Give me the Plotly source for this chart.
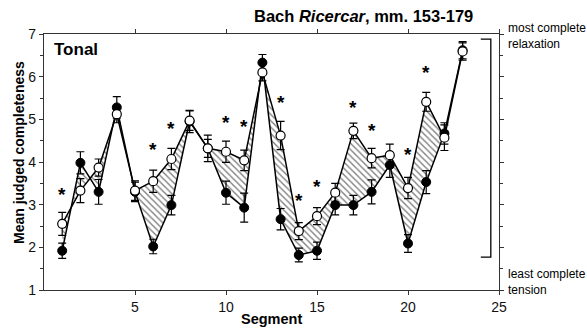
import plotly.graph_objects as go

# ---- data ----
segments = list(range(1, 24))
open_vals = [2.55, 3.33, 3.87, 5.12, 3.33, 3.55, 4.07, 4.97, 4.32, 4.24, 4.04, 6.10,
             4.62, 2.38, 2.73, 3.28, 4.73, 4.09, 4.16, 3.39, 5.41, 4.57, 6.59]
filled_vals = [1.92, 3.98, 3.30, 5.28, 3.30, 2.02, 2.99, 4.95, 4.32, 3.28, 2.93, 6.33,
               2.66, 1.82, 1.92, 2.99, 2.99, 3.30, 3.93, 2.09, 3.53, 4.67, 6.62]
open_err = [0.27, 0.28, 0.20, 0.20, 0.23, 0.26, 0.25, 0.23, 0.21, 0.25, 0.24, 0.20,
            0.33, 0.20, 0.20, 0.22, 0.18, 0.23, 0.26, 0.25, 0.22, 0.30, 0.20]
filled_err = [0.18, 0.26, 0.29, 0.25, 0.23, 0.17, 0.23, 0.26, 0.31, 0.27, 0.34, 0.19,
              0.25, 0.16, 0.20, 0.23, 0.23, 0.28, 0.29, 0.21, 0.27, 0.25, 0.20]
star_segments = [1, 6, 7, 10, 11, 13, 14, 15, 17, 18, 20, 21]
star_vals = [3.33, 4.38, 4.87, 5.02, 4.93, 5.48, 3.20, 3.52, 5.36, 4.83, 4.28, 6.18]
x_ticks = [5, 10, 15, 20, 25]
y_ticks = [1, 2, 3, 4, 5, 6, 7]
bracket_x = [24.0, 24.55]
bracket_y = [1.77, 6.88]

W, H = 587, 330
ML, MR, MT, MB = 44, 88, 34, 40
PW, PH = W - ML - MR, H - MT - MB
FONT = "Liberation Sans, Arial, sans-serif"


def px_x(p):
    return (p - ML) / PW


def px_y(p):
    return (H - MB - p) / PH


fig = go.Figure()

# lines + hatched area between them
fig.add_trace(go.Scatter(x=segments, y=filled_vals, mode="lines",
                         line=dict(color="black", width=1.5), hoverinfo="skip",
                         showlegend=False))
fig.add_trace(go.Scatter(x=segments, y=open_vals, mode="lines",
                         line=dict(color="black", width=1.5), fill="tonexty",
                         fillcolor="white",
                         fillpattern=dict(shape="\\", fgcolor="black", bgcolor="white",
                                          size=4.5, solidity=0.3),
                         hoverinfo="skip", showlegend=False))

# markers with error bars
fig.add_trace(go.Scatter(x=segments, y=filled_vals, mode="markers",
                         marker=dict(symbol="circle", size=9, color="black",
                                     line=dict(color="black", width=1)),
                         error_y=dict(type="data", array=filled_err, color="black",
                                      thickness=1.2, width=4),
                         showlegend=False))
fig.add_trace(go.Scatter(x=segments, y=open_vals, mode="markers",
                         marker=dict(symbol="circle", size=9, color="white",
                                     line=dict(color="black", width=1.2)),
                         error_y=dict(type="data", array=open_err, color="black",
                                      thickness=1.2, width=4),
                         showlegend=False))

# asterisks
for sx, sy in zip(star_segments, star_vals):
    fig.add_annotation(x=sx, y=sy, xref="x", yref="y", text="<b>*</b>", showarrow=False,
                       font=dict(family=FONT, size=19, color="black"),
                       xanchor="center", yanchor="middle", yshift=-4)

# bracket on the right
fig.add_shape(type="path", xref="x", yref="y",
              path=(f"M {bracket_x[0]} {bracket_y[1]} L {bracket_x[1]} {bracket_y[1]} "
                    f"L {bracket_x[1]} {bracket_y[0]} L {bracket_x[0]} {bracket_y[0]}"),
              line=dict(color="black", width=1.3))

# texts
fig.add_annotation(x=px_x(363), y=px_y(16), xref="paper", yref="paper",
                   text="<b>Bach <i>Ricercar</i>, mm. 153-179</b>", showarrow=False,
                   font=dict(family=FONT, size=16.5, color="black"),
                   xanchor="center", yanchor="middle")
fig.add_annotation(x=px_x(52), y=px_y(49), xref="paper", yref="paper",
                   text="<b>Tonal</b>", showarrow=False,
                   font=dict(family=FONT, size=17, color="black"),
                   xanchor="left", yanchor="middle")
fig.add_annotation(x=px_x(19), y=px_y(153), xref="paper", yref="paper",
                   text="<b>Mean judged completeness</b>", showarrow=False, textangle=-90,
                   font=dict(family=FONT, size=14, color="black"),
                   xanchor="center", yanchor="middle")
fig.add_annotation(x=px_x(271), y=px_y(319), xref="paper", yref="paper",
                   text="<b>Segment</b>", showarrow=False,
                   font=dict(family=FONT, size=14.5, color="black"),
                   xanchor="center", yanchor="middle")
fig.add_annotation(x=px_x(506), y=px_y(36), xref="paper", yref="paper",
                   text="most complete<br>relaxation", showarrow=False, align="left",
                   font=dict(family=FONT, size=12, color="black"),
                   xanchor="left", yanchor="middle")
fig.add_annotation(x=px_x(506), y=px_y(282), xref="paper", yref="paper",
                   text="least complete<br>tension", showarrow=False, align="left",
                   font=dict(family=FONT, size=12, color="black"),
                   xanchor="left", yanchor="middle")

axis_common = dict(showline=True, linecolor="#333", linewidth=1.3, mirror="ticks",
                   ticks="outside", ticklen=4, tickwidth=1.2, tickcolor="#333",
                   showgrid=False, zeroline=False,
                   tickfont=dict(family=FONT, size=14, color="#111"))

fig.update_xaxes(range=[0, 25], tickvals=x_ticks, ticktext=[str(t) for t in x_ticks],
                 **axis_common)
fig.update_yaxes(range=[1, 7], tickvals=y_ticks, ticktext=[str(t) for t in y_ticks],
                 minor=dict(dtick=0.5, ticks="outside", ticklen=3, tickcolor="#333",
                            tickwidth=1, showgrid=False),
                 **axis_common)

fig.update_layout(width=W, height=H, margin=dict(l=ML, r=MR, t=MT, b=MB, pad=0),
                  paper_bgcolor="white", plot_bgcolor="white", showlegend=False,
                  font=dict(family=FONT))

fig.write_html("out.html")
